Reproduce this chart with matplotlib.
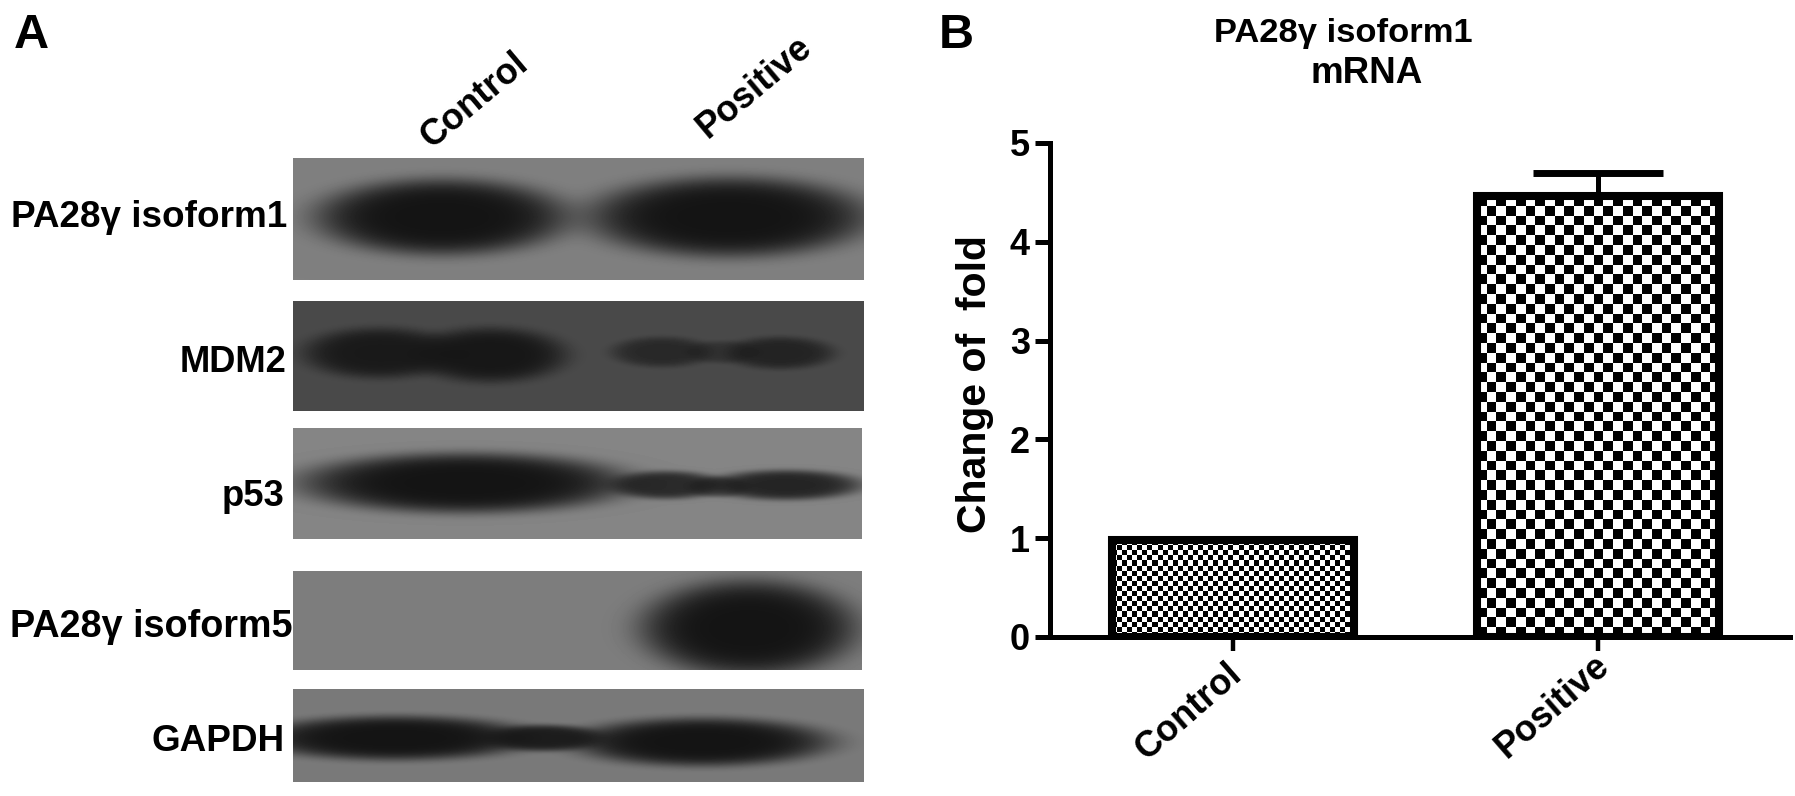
import numpy as np
import matplotlib
matplotlib.use("Agg")
import matplotlib.pyplot as plt
from matplotlib.transforms import ScaledTranslation

plt.rcParams['font.family'] = ['Liberation Sans', 'DejaVu Sans']
plt.rcParams['font.weight'] = 'bold'
plt.rcParams['axes.labelweight'] = 'bold'

W, H = 1795, 796

# Chart data (panel B)
categories = ['Control', 'Positive']
fold_change = [0.98, 4.46]
fold_error = [0.0, 0.24]
y_ticks = [0, 1, 2, 3, 4, 5]
checker_cell_px = [5.0, 9.8]

# Blot labels (panel A)
blot_labels = ['PA28γ isoform1', 'MDM2', 'p53', 'PA28γ isoform5', 'GAPDH']
label_right_px = [287, 286, 285, 292, 285]
label_base_px = [227, 372, 506, 637, 751]
label_size = [26.6, 26.2, 26.2, 27.2, 26.6]

# Blot panels: x0, x1, y0, y1 in pixels, and background grey
blot_boxes = [(293, 864, 158, 280), (293, 864, 301, 411), (293, 862, 428, 539),
              (293, 862, 571, 670), (293, 864, 689, 782)]
blot_grey = [0.50, 0.29, 0.52, 0.49, 0.48]
# Bands per panel: centre x, centre y, half width, half height, strength
blot_bands = [
    [(442, 217, 126, 38, 1.0), (729, 217, 140, 40, 1.0)],
    [(380, 353, 76, 25, 0.90), (490, 355, 76, 27, 0.95),
     (662, 352, 50, 15, 0.62), (780, 353, 54, 16, 0.72), (722, 352, 36, 11, 0.40)],
    [(465, 483, 164, 30, 1.0), (667, 485, 56, 14, 0.80), (786, 485, 76, 15, 0.85),
     (718, 487, 30, 10, 0.45)],
    [(749, 628, 108, 48, 1.0)],
    [(395, 738, 138, 22, 1.0), (545, 738, 58, 13, 0.90), (702, 742, 128, 24, 1.0)],
]
BAND_DARK = 0.08

fig = plt.figure(figsize=(W / 100, H / 100), dpi=100, facecolor='white')


def px_axes(x0, x1, y_top, y_bot):
    return [x0 / W, 1 - y_bot / H, (x1 - x0) / W, (y_bot - y_top) / H]


# Panel A -----------------------------------------------------------------
pa = fig.add_axes([0, 0, 1, 1])
pa.set_xlim(0, W)
pa.set_ylim(H, 0)
pa.axis('off')

for box, grey, bands in zip(blot_boxes, blot_grey, blot_bands):
    x0, x1, y0, y1 = box
    xx, yy = np.meshgrid(np.arange(x0, x1) + .5, np.arange(y0, y1) + .5)
    clear = np.ones_like(xx)
    for cx, cy, hw, hh, s in bands:
        r = np.abs((xx - cx) / hw) ** 2 + np.abs((yy - cy) / hh) ** 2
        clear *= 1 - s * np.exp(-r ** 2.7)
    img = BAND_DARK + (grey - BAND_DARK) * clear
    pa.imshow(img, cmap='gray', vmin=0, vmax=1, extent=(x0, x1, y1, y0),
              aspect='auto', interpolation='bilinear')
pa.set_xlim(0, W)
pa.set_ylim(H, 0)

for lab, xr, yb, fs in zip(blot_labels, label_right_px, label_base_px, label_size):
    pa.text(xr, yb, lab, ha='right', va='baseline', fontsize=fs)

pa.text(475, 100, categories[0], rotation=40, ha='center', va='center',
        rotation_mode='anchor', fontsize=26)
pa.text(755, 87, categories[1], rotation=40, ha='center', va='center',
        rotation_mode='anchor', fontsize=26)
pa.text(14, 48, 'A', ha='left', va='baseline', fontsize=35)
pa.text(939, 48, 'B', ha='left', va='baseline', fontsize=35)
pa.text(1343, 42, 'PA28γ isoform1', ha='center', va='baseline', fontsize=24.8)
pa.text(1367, 83, 'mRNA', ha='center', va='baseline', fontsize=26.5)

# Panel B -----------------------------------------------------------------
ax = fig.add_axes(px_axes(1050, 1790, 143, 637), facecolor='none')
xlim = (-0.501, 1.526)
px_per_x = 740 / (xlim[1] - xlim[0])
pos = np.arange(len(categories))

bars = ax.bar(pos, fold_change, width=0.663, facecolor='none', edgecolor='black',
              linewidth=5.8, zorder=3)
for bar, cell in zip(bars, checker_cell_px):
    bx, by, bw, bh = bar.get_x(), bar.get_y(), bar.get_width(), bar.get_height()
    nx = int(round(bw * px_per_x / cell))
    ny = int(round(bh * (494 / 5) / cell))
    grid = np.indices((ny, nx)).sum(axis=0) % 2
    ax.imshow(grid, cmap='gray', vmin=0, vmax=1, extent=(bx, bx + bw, by, by + bh),
              origin='lower', aspect='auto', interpolation='nearest', zorder=2)

ax.errorbar(pos[1:], fold_change[1:], yerr=[[0], fold_error[1:]], fmt='none', ecolor='black',
            elinewidth=3.6, capsize=47, capthick=5, zorder=4)

ax.set_xlim(*xlim)
ax.set_ylim(0, 5)
ax.set_yticks(y_ticks)
ax.set_xticks(pos)
ax.set_xticklabels(categories, rotation=41, ha='right', va='top', rotation_mode='anchor')
ax.tick_params(axis='y', length=11, width=3.6, pad=3.5, labelsize=26)
ax.tick_params(axis='x', length=10, width=3.2, pad=4, labelsize=26)
for lbl, dx, dy in zip(ax.get_xticklabels(), (-7, -5), (0, 9)):
    shift = ScaledTranslation(dx / 100, dy / 100, fig.dpi_scale_trans)
    lbl.set_transform(lbl.get_transform() + shift)
for s in ('top', 'right'):
    ax.spines[s].set_visible(False)
for s in ('left', 'bottom'):
    ax.spines[s].set_linewidth(3.6)
ax.set_ylabel('Change of  fold', fontsize=29.5)
ax.yaxis.set_label_coords((994 - 1050) / 740, (637 - 384) / 494)

fig.savefig('out.png', dpi=100, facecolor='white')
